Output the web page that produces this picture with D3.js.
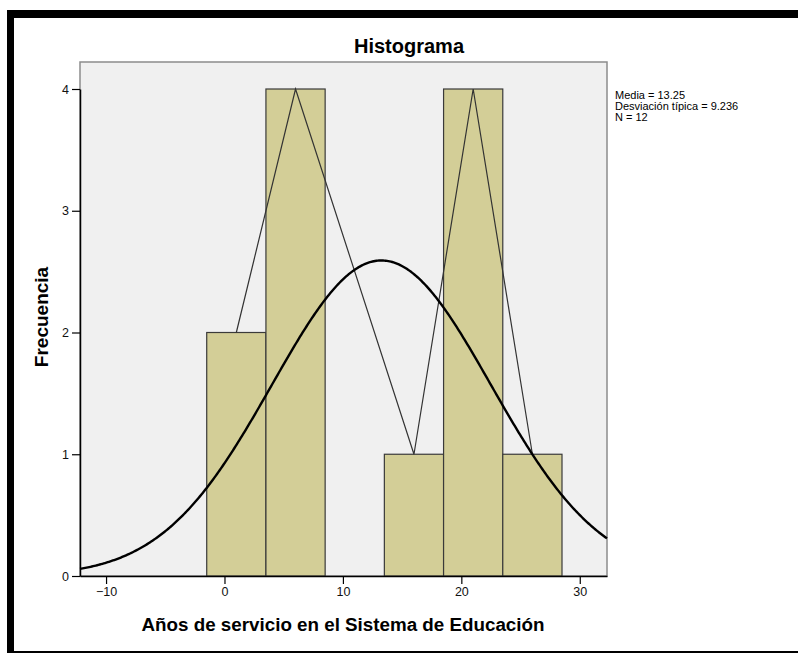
<!DOCTYPE html>
<html><head><meta charset="utf-8">
<script src="https://cdn.jsdelivr.net/npm/d3@7"></script>
<style>
html,body{margin:0;padding:0;background:#fff;}
svg{display:block;font-family:"Liberation Sans",Arial,sans-serif;}
</style></head>
<body>
<svg id="chart" width="798" height="653"></svg>
<script>
// ---- data ----
const binStarts = [-1.5, 3.5, 8.5, 13.5, 18.5, 23.5];
const binWidth = 5;
const counts = [2, 4, 0, 1, 4, 1];
const polyX = [1, 6, 16, 21, 26];
const polyY = [2, 4, 1, 4, 1];
const xTicks = [-10, 0, 10, 20, 30];
const yTicks = [0, 1, 2, 3, 4];
const statMean = 13.25;
const statSd = 9.236;
const statN = 12;
const legendLines = ["Media = 13.25", "Desviación típica = 9.236", "N = 12"];

const svg = d3.select("#chart");
const L = 80, R = 607, T = 62, B = 576;
const x = d3.scaleLinear().domain([-12.2, 32.3]).range([L, R]);
const y = d3.scaleLinear().domain([0, 4]).range([B, B - 4 * 121.75]);

// outer frame
svg.append("rect").attr("x", 7).attr("y", 10).attr("width", 800).attr("height", 8).attr("fill", "#000");
svg.append("rect").attr("x", 7).attr("y", 10).attr("width", 7).attr("height", 643).attr("fill", "#000");
svg.append("rect").attr("x", 7).attr("y", 651).attr("width", 800).attr("height", 2).attr("fill", "#000");

// plot background
svg.append("rect").attr("x", L).attr("y", T).attr("width", R - L).attr("height", B - T)
  .attr("fill", "#f0f0f0").attr("stroke", "#8c8c8c").attr("stroke-width", 1.5);

// bars
svg.append("g").selectAll("rect").data(binStarts.map((s, i) => ({s, c: counts[i]})).filter(d => d.c > 0))
  .join("rect")
  .attr("x", d => x(d.s)).attr("y", d => y(d.c))
  .attr("width", d => x(d.s + binWidth) - x(d.s)).attr("height", d => y(0) - y(d.c))
  .attr("fill", "#d3ce97").attr("stroke", "#3a3a3a").attr("stroke-width", 1.2);

// frequency polygon
svg.append("path").datum(polyX.map((v, i) => [v, polyY[i]]))
  .attr("d", d3.line().x(d => x(d[0])).y(d => y(d[1])))
  .attr("fill", "none").attr("stroke", "#333").attr("stroke-width", 1.2);

// normal curve from displayed statistics
const normPts = d3.range(0, 401).map(i => {
  const xv = -12.2 + i * (32.3 + 12.2) / 400;
  const z = (xv - statMean) / statSd;
  return [xv, statN * binWidth / (statSd * Math.sqrt(2 * Math.PI)) * Math.exp(-0.5 * z * z)];
});
svg.append("path").datum(normPts)
  .attr("d", d3.line().x(d => x(d[0])).y(d => y(d[1])))
  .attr("fill", "none").attr("stroke", "#000").attr("stroke-width", 2.4);

// axes
const xAxis = svg.append("g").attr("transform", `translate(0,${B})`)
  .call(d3.axisBottom(x).tickValues(xTicks).tickFormat(d3.format("d")).tickSize(8).tickSizeOuter(0).tickPadding(3));
const yAxis = svg.append("g").attr("transform", `translate(${L},0)`)
  .call(d3.axisLeft(y).tickValues(yTicks).tickFormat(d3.format("d")).tickSize(8).tickSizeOuter(0).tickPadding(3));
[xAxis, yAxis].forEach(g => {
  g.select(".domain").attr("stroke", "#000").attr("stroke-width", 1.5);
  g.selectAll(".tick line").attr("stroke", "#000").attr("stroke-width", 1.2);
  g.selectAll(".tick text").attr("fill", "#111").style("font-size", "12.5px")
    .style("font-family", '"Liberation Sans",Arial,sans-serif');
});

// title & labels
svg.append("text").attr("x", 409).attr("y", 53).attr("text-anchor", "middle")
  .style("font-size", "20px").style("font-weight", "bold").text("Histograma");
svg.append("text").attr("x", 343).attr("y", 631).attr("text-anchor", "middle")
  .style("font-size", "18.8px").style("font-weight", "bold").text("Años de servicio en el Sistema de Educación");
svg.append("text").attr("transform", "translate(48,317) rotate(-90)").attr("text-anchor", "middle")
  .style("font-size", "19px").style("font-weight", "bold").text("Frecuencia");

// legend
svg.append("g").selectAll("text").data(legendLines).join("text")
  .attr("x", 615).attr("y", (d, i) => 99 + i * 11)
  .style("font-size", "11px").attr("fill", "#000").text(d => d);
</script>
</body></html>
